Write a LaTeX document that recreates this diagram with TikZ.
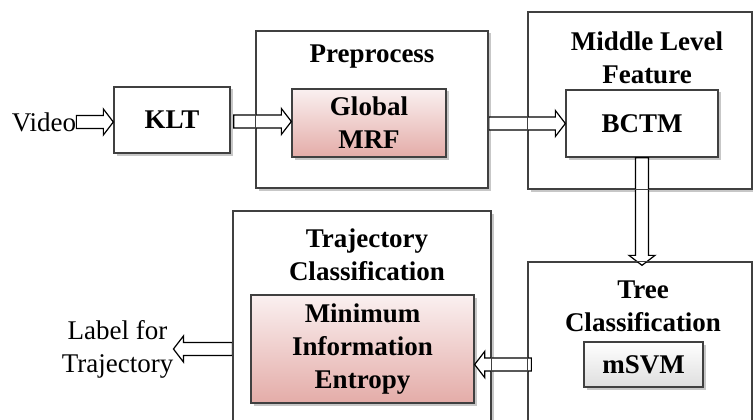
\documentclass[tikz,border=0pt]{standalone}
\usepackage{fontspec}
\setmainfont{Liberation Serif}
\usetikzlibrary{calc,shadows}

\definecolor{edge}{RGB}{64,64,64}
\definecolor{pinktop}{RGB}{250,240,240}
\definecolor{pinkbot}{RGB}{228,172,168}
\definecolor{greybot}{RGB}{222,222,222}

\newcommand\diagfont{\fontsize{27}{33}\selectfont}

\tikzset{
  boxline/.style={draw=edge, line width=1.3pt},
  softshadow/.style={drop shadow={shadow xshift=2.5pt, shadow yshift=-2.5pt, opacity=0.22, fill=black}},
  outer/.style={boxline, fill=white, softshadow, inner sep=0pt},
  stagebox/.style={boxline, fill=white, softshadow, inner sep=0pt, align=center, font=\diagfont\bfseries},
  pinkbox/.style={stagebox, top color=pinktop, bottom color=pinkbot},
  greybox/.style={stagebox, top color=white, bottom color=greybot},
  title/.style={align=center, font=\diagfont\bfseries, inner sep=0pt},
  plain/.style={align=center, font=\diagfont, inner sep=0pt},
  arrowline/.style={draw=black, fill=white, line width=1.2pt, line join=miter}
}

% hollow block arrow from #1 to #2
\newcommand\blockarrow[2]{%
  \path (#1) coordinate (ba-a) (#2) coordinate (ba-b);
  \path ($(ba-b)!10pt!(ba-a)$) coordinate (ba-h);
  \draw[arrowline] ($(ba-a)!6.5pt!90:(ba-b)$) -- ($(ba-h)!6.5pt!-90:(ba-a)$)
    -- ($(ba-h)!13pt!-90:(ba-a)$) -- (ba-b) -- ($(ba-h)!13pt!90:(ba-a)$)
    -- ($(ba-h)!6.5pt!90:(ba-a)$) -- ($(ba-a)!6.5pt!-90:(ba-b)$) -- cycle;
}

\begin{document}
\begin{tikzpicture}[x=1pt, y=-1pt]
\useasboundingbox (0,0) rectangle (753,420);
\clip (0,0) rectangle (753,420);

% group frames
\node[outer, minimum width=232pt, minimum height=157pt] (pre) at (372,109.5) {};
\node[outer, minimum width=224pt, minimum height=177pt] (mid) at (640,100.5) {};
\node[outer, minimum width=224pt, minimum height=168pt] (tree) at (640,346) {};
\node[outer, minimum width=258pt, minimum height=219pt] (traj) at (362,320.5) {};

% group titles
\node[title] (pre-t) at (372,57) {Preprocess};
\node[title] (mid-t) at (647,57.5) {Middle Level\\Feature};
\node[title] (traj-t) at (367,255) {Trajectory\\Classification};
\node[title] (tree-t) at (643,306.5) {Tree\\Classification};

% processing blocks
\node[stagebox, minimum width=116pt, minimum height=66pt] (klt) at (172,120) {KLT};
\node[pinkbox, minimum width=154pt, minimum height=68pt] (mrf) at (369,123) {Global\\MRF};
\node[stagebox, minimum width=152pt, minimum height=67pt] (bctm) at (642,123.5) {BCTM};
\node[greybox, minimum width=119pt, minimum height=45pt] (msvm) at (643.5,364.5) {mSVM};
\node[pinkbox, minimum width=223pt, minimum height=108pt] (mie) at (362.5,349) {Minimum\\Information\\Entropy};

% input and output labels
\node[plain] (video) at (44,122) {Video};
\node[plain] (label) at (117.5,349) {Label for\\Trajectory};

% flow arrows
\blockarrow{video.east}{klt.west |- video.east}
\blockarrow{$(klt.east)+(3,1.5)$}{$(mrf.west)+(0,-1.5)$}
\blockarrow{pre.east |- bctm.west}{bctm.west}
\blockarrow{bctm.south}{$(bctm.south |- tree.north)+(0,4)$}
\blockarrow{$(tree.west |- msvm)+(4,0)$}{mie.east |- msvm}
\blockarrow{traj.west |- mie.west}{label.east}

% frame borders on top of the arrows
\foreach \f in {pre,mid,tree,traj}
  \draw[boxline] (\f.north west) rectangle (\f.south east);
\end{tikzpicture}
\end{document}
